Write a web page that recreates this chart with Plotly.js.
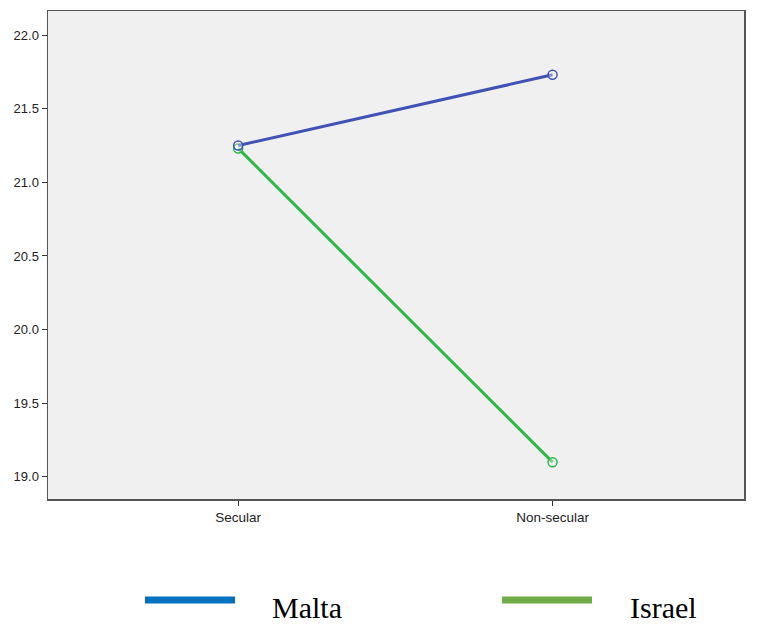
<!DOCTYPE html>
<html>
<head>
<meta charset="utf-8">
<script src="https://cdn.plot.ly/plotly-3.0.1.min.js"></script>
<style>
  body { margin: 0; background: #fff; }
  #chart { width: 757px; height: 629px; }
</style>
</head>
<body>
<div id="chart"></div>
<script>
const categories = ["Secular", "Non-secular"];
const maltaValues = [21.25, 21.73];
const israelValues = [21.23, 19.10];
const yTicks = [19.0, 19.5, 20.0, 20.5, 21.0, 21.5, 22.0];
const legendNames = ["Malta", "Israel"];

function lineTrace(name, y, color) {
  return {
    x: categories,
    y: y,
    name: name,
    type: "scatter",
    mode: "lines+markers",
    line: { color: color, width: 3 },
    marker: {
      symbol: "circle",
      size: 9,
      color: "rgba(255,255,255,0.35)",
      line: { color: color, width: 1.5 }
    },
    showlegend: false
  };
}

const data = [
  lineTrace(legendNames[1], israelValues, "#2EB84A"),
  lineTrace(legendNames[0], maltaValues, "#4052B5")
];

// legend drawn below the plot like the original figure
const PL = 48, PR = 744, PT = 11, PB = 499;
const legendLines = [
  { x0: 145, x1: 235, color: "#0070C0", label: legendNames[0], tx: 270 },
  { x0: 502, x1: 592, color: "#70AD47", label: legendNames[1], tx: 628 }
];
const px = v => (v - PL) / (PR - PL);
const py = v => -(v - PB) / (PB - PT);
const shapes = legendLines.map(l => ({
  type: "line", xref: "paper", yref: "paper",
  x0: px(l.x0), x1: px(l.x1), y0: py(600), y1: py(600),
  line: { color: l.color, width: 7 }
}));
const annotations = legendLines.map(l => ({
  xref: "paper", yref: "paper",
  x: px(l.tx), y: py(607),
  xanchor: "left", yanchor: "middle",
  text: l.label, showarrow: false,
  font: { family: "Liberation Serif, serif", size: 30, color: "#000" }
}));

const layout = {
  width: 757,
  height: 629,
  margin: { l: PL, r: 757 - PR, t: PT, b: 629 - PB },
  paper_bgcolor: "#ffffff",
  plot_bgcolor: "#F0F0F0",
  font: { family: "Liberation Sans, Arial, sans-serif", size: 13, color: "#222" },
  xaxis: {
    type: "category",
    range: [-0.605, 1.609],
    showgrid: false,
    zeroline: false,
    showline: true,
    mirror: true,
    linecolor: "#555",
    linewidth: 1.5,
    ticks: "outside",
    ticklen: 5,
    tickcolor: "#333",
    tickfont: { size: 13.5, color: "#222" }
  },
  yaxis: {
    range: [18.85, 22.163],
    tickvals: yTicks,
    ticktext: yTicks.map(v => v.toFixed(1)),
    showgrid: false,
    zeroline: false,
    showline: true,
    mirror: true,
    linecolor: "#555",
    linewidth: 1.5,
    ticks: "outside",
    ticklen: 5,
    tickcolor: "#333",
    tickfont: { size: 13, color: "#222" }
  },
  shapes: shapes,
  annotations: annotations,
  showlegend: false
};

Plotly.newPlot("chart", data, layout, { displayModeBar: false, staticPlot: true });
</script>
</body>
</html>
